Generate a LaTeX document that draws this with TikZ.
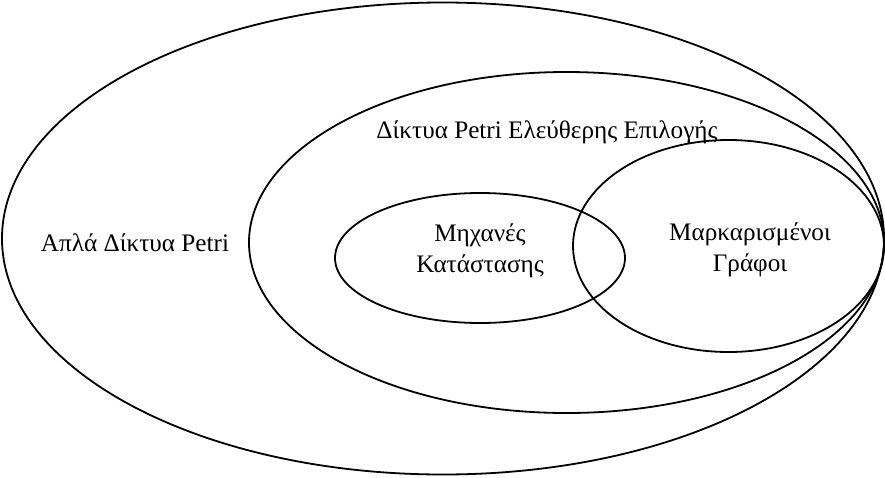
\documentclass[tikz,border=0pt]{standalone}
\usepackage{fontspec}
\setmainfont{Liberation Serif}
\begin{document}
\begin{tikzpicture}[x=1pt,y=-1pt,
  set/.style={draw=black,line width=1.8pt},
  lbl/.style={font=\fontsize{25.2}{31.5}\selectfont,align=center,inner sep=0pt}]
\useasboundingbox (0,0) rectangle (885,477);
% nested sets
\draw[set] (443,238.5) ellipse [x radius=441, y radius=236];
\draw[set] (566.5,242.5) ellipse [x radius=317.5, y radius=170.5];
\draw[set] (480,258) ellipse [x radius=145, y radius=65];
\draw[set] (728.5,246) ellipse [x radius=155.5, y radius=106];
% labels
\node[lbl] (simple) at (135,243) {Απλά Δίκτυα Petri};
\node[lbl] (free) at (547,132) {Δίκτυα Petri Ελεύθερης Επιλογής};
\node[lbl] (sm) at (480,251) {Μηχανές\\Κατάστασης};
\node[lbl] (mg) at (750,250) {Μαρκαρισμένοι\\Γράφοι};
\end{tikzpicture}
\end{document}
